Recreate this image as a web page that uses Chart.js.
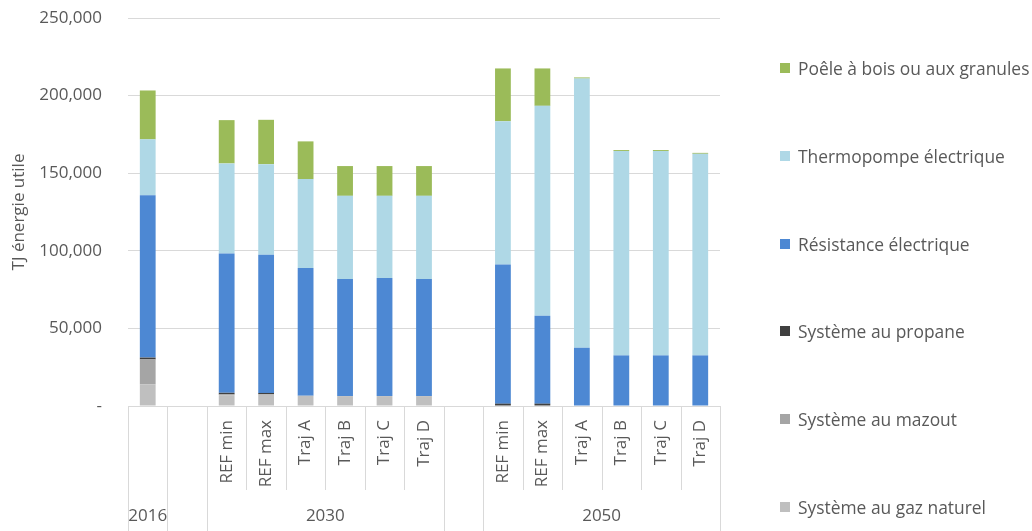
<!DOCTYPE html>
<html>
<head>
<meta charset="utf-8">
<script src="https://cdn.jsdelivr.net/npm/chart.js@4/dist/chart.umd.min.js"></script>
<style>
  html, body { margin: 0; padding: 0; background: #fff; }
  #wrap { position: relative; width: 1032px; height: 531px; overflow: hidden; }
  #legend { position: absolute; left: 780px; top: 0; font-family: 'Open Sans', sans-serif; font-size: 17.4px; color: #595959; }
  .lg { position: absolute; left: 0; white-space: nowrap; display: flex; align-items: center; height: 24px; margin-top: -12px; }
  .lg i { display: inline-block; width: 10px; height: 10px; margin-right: 8px; }
</style>
</head>
<body>
<div id="wrap">
  <canvas id="c" width="1032" height="531"></canvas>
  <div id="legend"></div>
</div>
<script>
// slots: 2016, gap, 2030 x6, gap, 2050 x6
const innerLabels = ['', '', 'REF min', 'REF max', 'Traj A', 'Traj B', 'Traj C', 'Traj D', '', 'REF min', 'REF max', 'Traj A', 'Traj B', 'Traj C', 'Traj D'];
const groupNames = ['2016', '', '2030', '', '2050'];
const groupSpans = [1, 1, 6, 1, 6];

// TJ énergie utile, stacked bottom -> top
const gazNaturel  = [14000, null, 7000, 7200, 6600, 6400, 6400, 6400, null, 0, 0, 0, 0, 0, 0];
const mazout      = [16000, null, 500, 500, 0, 0, 0, 0, null, 0, 0, 0, 0, 0, 0];
const propane     = [1200, null, 1000, 700, 0, 0, 0, 0, null, 1500, 1500, 0, 0, 0, 0];
const resistance  = [104600, null, 89800, 89000, 82300, 75400, 76000, 75400, null, 89700, 56700, 37600, 32600, 32600, 32600];
const thermopompe = [36000, null, 58000, 58400, 57300, 53600, 53000, 53600, null, 92300, 135200, 173400, 131700, 131700, 129900];
const poele       = [31500, null, 27900, 28600, 24300, 19200, 19200, 19200, null, 34000, 24100, 700, 600, 600, 600];

const seriesNames = ['Système au gaz naturel', 'Système au mazout', 'Système au propane', 'Résistance électrique', 'Thermopompe électrique', 'Poêle à bois ou aux granules'];
const seriesData = [gazNaturel, mazout, propane, resistance, thermopompe, poele];
const seriesColors = ['#bfbfbf', '#a5a5a5', '#404040', '#4d88d3', '#afd8e6', '#9bbb59'];

const GREY = '#595959';
const LINE = '#d9d9d9';
const FONT = "'Open Sans', sans-serif";

// category separators + outer (year) labels
const groupAxis = {
  id: 'groupAxis',
  afterDraw(chart) {
    const x = chart.scales.x;
    const ctx = chart.ctx;
    const n = innerLabels.length;
    const slot = x.width / n;
    const top = chart.chartArea.bottom;
    const edge = i => Math.round(x.left + i * slot) + 0.5;
    ctx.save();
    ctx.strokeStyle = LINE;
    ctx.lineWidth = 1;
    const groupEdges = new Set([0]);
    let acc = 0;
    groupSpans.forEach(s => { acc += s; groupEdges.add(acc); });
    for (let i = 0; i <= n; i++) {
      const bottom = groupEdges.has(i) ? chart.height : top + 84;
      ctx.beginPath();
      ctx.moveTo(edge(i), top);
      ctx.lineTo(edge(i), bottom);
      ctx.stroke();
    }
    ctx.fillStyle = GREY;
    ctx.font = '17px ' + FONT;
    ctx.textAlign = 'center';
    ctx.textBaseline = 'middle';
    let start = 0;
    groupNames.forEach((g, k) => {
      const mid = x.left + (start + groupSpans[k] / 2) * slot;
      if (g) ctx.fillText(g, mid, 516);
      start += groupSpans[k];
    });
    ctx.restore();
  }
};

new Chart(document.getElementById('c'), {
  type: 'bar',
  data: {
    labels: innerLabels,
    datasets: seriesNames.map((name, i) => ({
      label: name,
      data: seriesData[i],
      backgroundColor: seriesColors[i],
      borderWidth: 0,
      barPercentage: 0.4,
      categoryPercentage: 1.0,
    })),
  },
  options: {
    responsive: false,
    animation: false,
    layout: { padding: { left: 0, top: 18, right: 312, bottom: 0 } },
    plugins: { legend: { display: false }, tooltip: { enabled: false } },
    scales: {
      x: {
        stacked: true,
        afterFit: s => { s.height = 125; s.paddingLeft = 0; s.paddingRight = 0; },
        grid: { display: false, drawTicks: false },
        border: { display: true, color: LINE, width: 1 },
        ticks: { autoSkip: false, minRotation: 90, maxRotation: 90, padding: 14, color: GREY, font: { family: FONT, size: 17 } },
      },
      y: {
        stacked: true,
        min: 0, max: 250000,
        afterFit: s => { s.width = 128; s.paddingTop = 0; s.paddingBottom = 0; },
        grid: { color: LINE, drawTicks: false },
        border: { display: false },
        ticks: {
          stepSize: 50000, padding: 26, color: GREY, font: { family: FONT, size: 17 },
          callback: v => v === 0 ? '-' : v.toLocaleString('en-US'),
        },
        title: { display: true, text: 'TJ énergie utile', color: GREY, font: { family: FONT, size: 17 }, padding: { top: 9, bottom: 0 } },
      },
    },
  },
  plugins: [groupAxis],
});

// legend, top series first
const lg = document.getElementById('legend');
seriesNames.slice().reverse().forEach((name, k) => {
  const idx = seriesNames.length - 1 - k;
  const d = document.createElement('div');
  d.className = 'lg';
  d.style.top = (68 + k * 87.8) + 'px';
  d.innerHTML = `<i style="background:${seriesColors[idx]}"></i><span>${name}</span>`;
  lg.appendChild(d);
});
</script>
</body>
</html>
